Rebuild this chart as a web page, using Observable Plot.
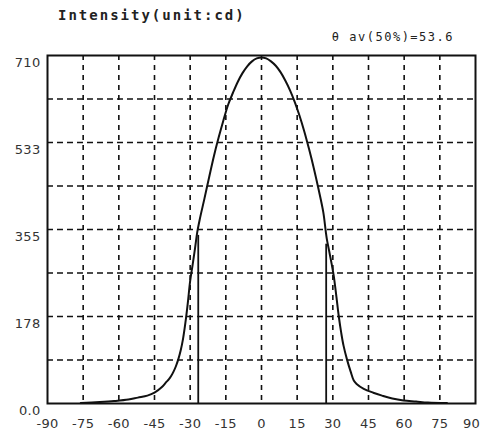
<!DOCTYPE html>
<html>
<head>
<meta charset="utf-8">
<script src="https://cdn.jsdelivr.net/npm/d3@7"></script>
<script src="https://cdn.jsdelivr.net/npm/@observablehq/plot@0.6"></script>
<style>
  html, body { margin: 0; padding: 0; background: #fff; }
  #wrap { position: relative; width: 480px; height: 437px; overflow: hidden; }
  #title { position: absolute; left: 58px; top: 7px; font-family: "DejaVu Sans Mono", monospace; font-weight: bold; font-size: 14px; letter-spacing: 2.0px; color: #222; white-space: nowrap; }
  #sub { position: absolute; right: 26px; top: 30px; font-family: "DejaVu Sans Mono", monospace; font-size: 12px; letter-spacing: 1.5px; color: #222; white-space: nowrap; }
  #chart { position: absolute; left: 0; top: 0; }
</style>
</head>
<body>
<div id="wrap">
  <div id="chart"></div>
  <div id="title">Intensity(unit:cd)</div>
  <div id="sub">θ av(50%)=53.6</div>
</div>
<script>
// Angle (degrees) and luminous intensity (cd)
const angles = [-76, -68, -62, -56, -52, -48, -45, -42, -40, -39, -38, -37, -36, -35, -34, -33, -32, -31, -30, -29, -28, -27, -26, -24, -22, -20, -18, -16, -14, -12, -10, -8, -6, -4, -2, 0, 2, 4, 6, 8, 10, 12, 14, 16, 18, 20, 22, 24, 26, 27, 27.5, 28.5, 29.5, 30.4, 31.5, 32.5, 33.5, 34.5, 36, 37.5, 38.8, 40, 43, 47, 50.7, 55, 59.7, 65, 70, 78];
const intensity = [1, 3, 5, 8, 12, 16, 22, 33, 44, 49, 56, 65, 76, 90, 108, 132, 165, 205, 250, 282, 315, 350, 375, 418, 462, 505, 543, 578, 610, 634, 656, 674, 688, 698, 704, 706, 704, 698, 689, 676, 659, 639, 615, 587, 555, 519, 480, 437, 390, 352, 335, 310, 285, 260, 218, 178, 145, 118, 89, 65, 47, 40, 30, 22, 16, 10, 6, 4, 2, 1];

// Half-intensity beam angle markers
const beamAngles = [-26.6, 27.2];
const beamValues = [343, 325];

// Axis ticks and grid
const xTicks = [-90, -75, -60, -45, -30, -15, 0, 15, 30, 45, 60, 75];
const xLastTick = [90];
const yTicks = [0, 177.5, 355, 532.5, 710];
const yTickLabels = ["0.0", "178", "355", "533", "710"];
const yGrid = [88.75, 177.5, 266.25, 355, 443.75, 532.5, 621.25];
const xGrid = [-75, -60, -45, -30, -15, 0, 15, 30, 45, 60, 75];

const curve = angles.map((a, i) => ({angle: a, value: intensity[i]}));
const beams = beamAngles.map((a, i) => ({angle: a, value: beamValues[i]}));
const labelOf = new Map(yTicks.map((t, i) => [t, yTickLabels[i]]));

const chart = Plot.plot({
  width: 480,
  height: 437,
  marginTop: 55,
  marginBottom: 34,
  marginLeft: 47,
  marginRight: 5,
  style: {fontFamily: "DejaVu Sans, sans-serif", fontSize: "13px", color: "#333", background: "white", letterSpacing: "0.3px"},
  x: {domain: [-90, 90]},
  y: {domain: [0, 710]},
  marks: [
    Plot.ruleY(yGrid, {stroke: "#111", strokeWidth: 1.6, strokeDasharray: "6,4"}),
    Plot.ruleX(xGrid, {stroke: "#111", strokeWidth: 1.6, strokeDasharray: "5,5"}),
    Plot.ruleX(beams, {x: "angle", y1: 0, y2: "value", stroke: "#111", strokeWidth: 1.8}),
    Plot.line(curve, {x: "angle", y: "value", stroke: "#111", strokeWidth: 2, curve: "catmull-rom"}),
    Plot.frame({stroke: "#111", strokeWidth: 2}),
    Plot.axisX({ticks: xTicks, tickSize: 0, tickPadding: 15, tickFormat: d => String(d), label: null}),
    Plot.axisX({ticks: xLastTick, tickSize: 0, tickPadding: 15, dx: -4, tickFormat: d => String(d), label: null}),
    Plot.axisY({ticks: yTicks, tickSize: 0, tickPadding: 7, dy: 7, tickFormat: d => labelOf.get(d), label: null})
  ]
});
document.getElementById("chart").appendChild(chart);
</script>
</body>
</html>
